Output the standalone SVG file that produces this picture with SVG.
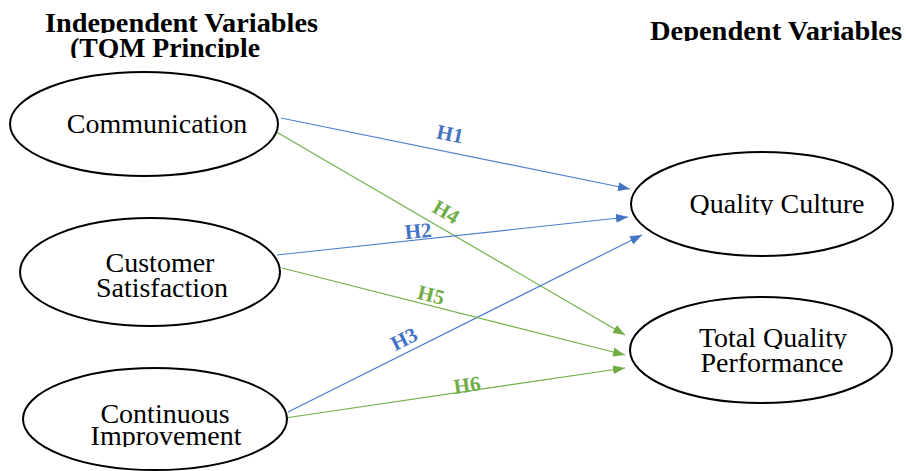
<svg xmlns="http://www.w3.org/2000/svg" width="906" height="471" viewBox="0 0 906 471">
<style>
.node ellipse{fill:#fff;stroke:#000;stroke-width:2}
.nt{font-family:'Liberation Serif','Times New Roman',serif;font-size:28px;fill:#000;text-anchor:middle}
.hd{font-family:'Liberation Serif','Times New Roman',serif;font-size:28px;font-weight:bold;fill:#000}
.blue{stroke:#4F7FD0;stroke-width:1.2;fill:none}
.green{stroke:#72B04A;stroke-width:1.2;fill:none}
.lb{font-family:'Liberation Serif','Times New Roman',serif;font-size:21px;font-weight:bold;text-anchor:middle;dominant-baseline:central}
.lbb{fill:#4472C4}
.lbg{fill:#70AD47}
</style>
<defs>
<marker id="ab" markerUnits="userSpaceOnUse" markerWidth="12" markerHeight="9" refX="12" refY="4.5" orient="auto"><path d="M0,0 L12,4.5 L0,9 z" fill="#4472C4"/></marker>
<marker id="ag" markerUnits="userSpaceOnUse" markerWidth="12" markerHeight="9" refX="12" refY="4.5" orient="auto"><path d="M0,0 L12,4.5 L0,9 z" fill="#70AD47"/></marker>
<clipPath id="c1" clipPathUnits="userSpaceOnUse"><rect x="0" y="0" width="600" height="33"/></clipPath>
<clipPath id="c2" clipPathUnits="userSpaceOnUse"><rect x="0" y="33" width="600" height="25"/></clipPath>
<clipPath id="c3" clipPathUnits="userSpaceOnUse"><rect x="600" y="0" width="306" height="41"/></clipPath>
<clipPath id="cq" clipPathUnits="userSpaceOnUse"><rect x="600" y="180" width="306" height="35"/></clipPath>
<clipPath id="ct" clipPathUnits="userSpaceOnUse"><rect x="600" y="320" width="306" height="29"/></clipPath>
<clipPath id="ci" clipPathUnits="userSpaceOnUse"><rect x="0" y="426" width="320" height="21"/></clipPath>
</defs>

<g id="headers">
<text class="hd" x="45" y="32" textLength="273" lengthAdjust="spacingAndGlyphs" clip-path="url(#c1)">Independent Variables</text>
<text class="hd" x="70" y="57" textLength="190" lengthAdjust="spacingAndGlyphs" clip-path="url(#c2)">(TQM Principle</text>
<text class="hd" x="650" y="40" textLength="252" lengthAdjust="spacingAndGlyphs" clip-path="url(#c3)">Dependent Variables</text>
</g>

<g id="connectors">
<line class="blue" x1="281" y1="118" x2="630" y2="189" marker-end="url(#ab)"/>
<line class="green" x1="273" y1="130" x2="625" y2="335" marker-end="url(#ag)"/>
<line class="blue" x1="277" y1="255" x2="628" y2="217" marker-end="url(#ab)"/>
<line class="blue" x1="288" y1="412" x2="642" y2="235" marker-end="url(#ab)"/>
<line class="green" x1="282" y1="268" x2="625" y2="355" marker-end="url(#ag)"/>
<line class="green" x1="285" y1="418" x2="625" y2="368" marker-end="url(#ag)"/>
<text class="lb lbb" transform="translate(450,134) rotate(11.5)">H1</text>
<text class="lb lbg" transform="translate(446,212) rotate(30)">H4</text>
<text class="lb lbb" transform="translate(418,231) rotate(-6)">H2</text>
<text class="lb lbb" transform="translate(404,339) rotate(-26.6)">H3</text>
<text class="lb lbg" transform="translate(431,295) rotate(14)">H5</text>
<text class="lb lbg" transform="translate(467,385) rotate(-8.4)">H6</text>
</g>

<g id="communication" class="node">
<ellipse cx="144" cy="124" rx="134" ry="52"/>
<text class="nt" x="157" y="133">Communication</text>
</g>
<g id="customer-satisfaction" class="node">
<ellipse cx="150" cy="272" rx="130" ry="54"/>
<text class="nt" x="160" y="272">Customer</text>
<text class="nt" x="162" y="297">Satisfaction</text>
</g>
<g id="continuous-improvement" class="node">
<ellipse cx="155" cy="419" rx="132" ry="51"/>
<text class="nt" x="165" y="423">Continuous</text>
<text class="nt" x="166" y="445" clip-path="url(#ci)">Improvement</text>
</g>
<g id="quality-culture" class="node">
<ellipse cx="762" cy="204" rx="131" ry="52"/>
<text class="nt" x="777" y="213" clip-path="url(#cq)">Quality Culture</text>
</g>
<g id="total-quality-performance" class="node">
<ellipse cx="761" cy="350" rx="131" ry="53"/>
<text class="nt" x="773" y="347" clip-path="url(#ct)">Total Quality</text>
<text class="nt" x="772" y="372">Performance</text>
</g>
</svg>
